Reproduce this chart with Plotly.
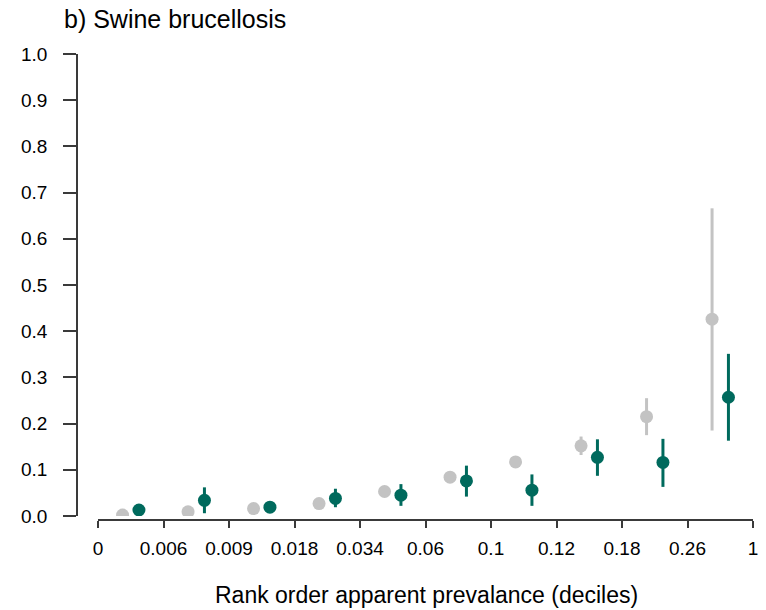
import plotly.graph_objects as go

tick_labels = ["0", "0.006", "0.009", "0.018", "0.034", "0.06", "0.1", "0.12", "0.18", "0.26", "1"]
deciles = list(range(10))

grey_mean = [0.002, 0.009, 0.016, 0.027, 0.053, 0.084, 0.117, 0.152, 0.215, 0.426]
grey_lo   = [0.000, 0.005, 0.012, 0.022, 0.047, 0.077, 0.110, 0.132, 0.175, 0.185]
grey_hi   = [0.004, 0.013, 0.020, 0.032, 0.059, 0.091, 0.124, 0.172, 0.255, 0.666]

teal_mean = [0.013, 0.034, 0.019, 0.038, 0.045, 0.076, 0.056, 0.127, 0.116, 0.257]
teal_lo   = [0.007, 0.006, 0.010, 0.019, 0.022, 0.042, 0.022, 0.087, 0.063, 0.163]
teal_hi   = [0.019, 0.062, 0.028, 0.059, 0.069, 0.109, 0.090, 0.166, 0.167, 0.351]

grey_x = [d + 0.375 for d in deciles]
teal_x = [d + 0.625 for d in deciles]

GREY = "#c3c3c3"
TEAL = "#006a5d"
AX = "#3a3a3a"

fig = go.Figure()
fig.add_trace(go.Scatter(
    x=grey_x, y=grey_mean, mode="markers",
    marker=dict(color=GREY, size=13),
    error_y=dict(type="data", symmetric=False,
                 array=[h - m for h, m in zip(grey_hi, grey_mean)],
                 arrayminus=[m - l for m, l in zip(grey_mean, grey_lo)],
                 color=GREY, thickness=3, width=0),
    showlegend=False))
fig.add_trace(go.Scatter(
    x=teal_x, y=teal_mean, mode="markers",
    marker=dict(color=TEAL, size=13),
    error_y=dict(type="data", symmetric=False,
                 array=[h - m for h, m in zip(teal_hi, teal_mean)],
                 arrayminus=[m - l for m, l in zip(teal_mean, teal_lo)],
                 color=TEAL, thickness=3, width=0),
    showlegend=False))

W, H = 766, 610
ml, mr, mt, mb = 77, 13, 54, 90
pw = W - ml - mr
ph = H - mt - mb

fig.update_layout(
    width=W, height=H,
    margin=dict(l=ml, r=mr, t=mt, b=mb, pad=0, autoexpand=False),
    paper_bgcolor="white", plot_bgcolor="white",
    font=dict(family="Liberation Sans, Arial, sans-serif", color="#000000", size=19),
    title=dict(text="b) Swine brucellosis", x=64 / W, xanchor="left",
               y=1 - 19 / H, yanchor="middle", font=dict(size=25)),
    xaxis=dict(
        domain=[21 / pw, 1], range=[0, 10], anchor="free", position=0,
        tickmode="array", tickvals=list(range(11)), ticktext=tick_labels,
        showline=True, linecolor=AX, linewidth=1.5,
        ticks="outside", ticklen=7, tickwidth=1.5, tickcolor=AX,
        ticklabelstandoff=4,
        showgrid=False, zeroline=False, automargin=False,
        tickfont=dict(size=19),
    ),
    yaxis=dict(
        domain=[4 / ph, 1], range=[0, 1], anchor="free", position=0,
        tickmode="array", tickvals=[i / 10 for i in range(11)],
        ticktext=[f"{i / 10:.1f}" for i in range(11)],
        showline=True, linecolor=AX, linewidth=1.5,
        ticks="outside", ticklen=13, tickwidth=1.5, tickcolor=AX,
        ticklabelstandoff=12,
        showgrid=False, zeroline=False, automargin=False,
        tickfont=dict(size=19),
    ),
    annotations=[dict(
        text="Rank order apparent prevalance (deciles)",
        xref="paper", yref="paper", x=(426 - ml) / pw, y=-(595 - (H - mb)) / ph,
        xanchor="center", yanchor="middle", showarrow=False,
        font=dict(size=23),
    )],
)

fig.write_html("out.html")
